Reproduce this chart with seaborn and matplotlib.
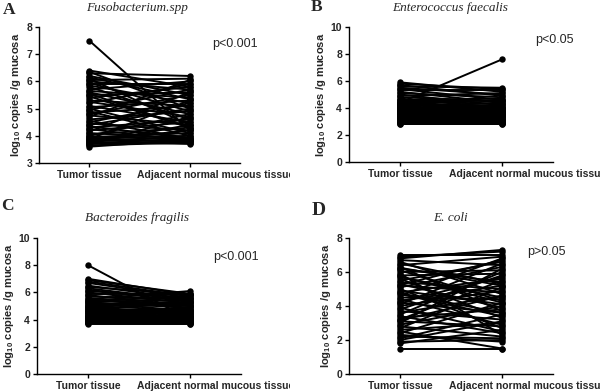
import numpy as np
import pandas as pd
import matplotlib
matplotlib.use("Agg")
import matplotlib.pyplot as plt
import seaborn as sns
from matplotlib.transforms import ScaledTranslation, Bbox, TransformedBbox

sns.set_style("ticks")
plt.rcParams['font.family'] = ['Liberation Sans', 'DejaVu Sans']
plt.rcParams['mathtext.default'] = 'regular'

categories = ["Tumor tissue", "Adjacent normal mucous tissue"]
titles = ["Fusobacterium.spp", "Enterococcus faecalis", "Bacteroides fragilis", "E. coli"]
letters = ["A", "B", "C", "D"]
pvalues = ["p<0.001", "p<0.05", "p<0.001", "p>0.05"]

fuso_tumor = [7.5, 6.4, 6.35, 6.3, 6.2, 6.1, 6.05, 6.0, 5.95, 5.9, 5.85, 5.8, 5.7, 5.65, 5.6, 5.5, 5.45, 5.4, 5.3, 5.25,
              5.2, 5.1, 5.05, 5.0, 4.95, 4.9, 4.8, 4.75, 4.7, 4.6, 4.55, 4.5, 4.45, 4.4, 4.3, 4.25, 4.2, 4.15, 4.1, 4.05,
              4.0, 3.98, 3.95, 3.92, 3.9, 3.88, 3.85, 3.82, 3.8, 3.78, 3.75, 3.72, 3.7, 3.68, 3.65, 3.6, 5.55, 4.85, 4.35, 6.15]
fuso_normal = [4.2, 5.8, 5.0, 6.2, 5.5, 4.4, 6.1, 5.7, 4.9, 5.9, 5.2, 4.6, 6.0, 5.4, 4.8, 5.6, 4.3, 5.8, 5.1, 4.7,
               5.9, 4.5, 5.3, 4.1, 5.7, 4.0, 5.5, 4.4, 6.05, 4.9, 3.9, 5.2, 4.2, 5.0, 4.6, 3.8, 4.5, 5.6, 3.9, 4.3,
               4.8, 3.85, 4.1, 3.75, 4.0, 5.3, 3.8, 4.2, 3.95, 3.7, 4.4, 3.9, 3.8, 4.7, 3.75, 3.85, 4.3, 5.1, 3.9, 5.35]

entero_tumor = [4.4, 5.9, 5.8, 5.7, 5.6, 5.5, 5.4, 5.3, 5.2, 5.1, 5.0, 4.9, 4.8, 4.7, 4.6, 4.5, 4.45, 4.4, 4.35, 4.3,
                4.25, 4.2, 4.15, 4.1, 4.05, 4.0, 3.95, 3.9, 3.85, 3.8, 3.75, 3.7, 3.65, 3.6, 3.55, 3.5, 3.45, 3.4, 3.35, 3.3,
                3.25, 3.2, 3.15, 3.1, 3.05, 3.0, 2.95, 2.9, 2.85, 2.8, 4.3, 3.9, 3.6, 3.2, 4.1, 3.7, 3.4, 3.0, 4.6, 3.8]
entero_normal = [7.6, 5.2, 5.4, 4.9, 5.5, 5.0, 4.6, 5.3, 4.4, 4.8, 4.2, 5.1, 4.5, 4.0, 4.7, 4.3, 3.9, 4.1, 4.6, 3.8,
                 4.2, 4.0, 3.6, 4.4, 3.9, 3.7, 4.1, 3.5, 3.8, 4.0, 3.4, 3.6, 3.9, 3.3, 3.7, 3.5, 3.2, 3.6, 3.1, 3.4,
                 3.3, 3.0, 3.2, 2.9, 3.1, 3.0, 2.9, 3.0, 2.85, 2.8, 4.0, 3.7, 3.5, 3.1, 3.8, 3.4, 3.3, 2.9, 4.5, 3.6]

bfrag_tumor = [8.0, 7.0, 6.9, 6.8, 6.7, 6.5, 6.4, 6.3, 6.2, 6.1, 6.0, 5.9, 5.8, 5.7, 5.6, 5.5, 5.4, 5.3, 5.2, 5.1,
               5.0, 4.95, 4.9, 4.85, 4.8, 4.7, 4.6, 4.55, 4.5, 4.45, 4.4, 4.35, 4.3, 4.25, 4.2, 4.15, 4.1, 4.05, 4.0, 3.95,
               3.9, 3.85, 3.8, 3.75, 3.7, 5.25, 4.75, 4.65, 5.35, 4.0, 3.9, 3.8, 4.1, 4.2, 5.05, 3.85, 3.75, 4.3, 4.6, 5.45]
bfrag_normal = [4.0, 5.8, 5.9, 5.7, 5.6, 5.5, 5.85, 5.4, 5.3, 5.6, 5.2, 5.9, 5.0, 5.5, 4.8, 6.1, 5.1, 4.6, 4.9, 5.3,
                4.7, 5.8, 4.5, 4.4, 5.2, 4.3, 4.2, 4.9, 4.1, 4.6, 4.0, 4.5, 3.9, 4.3, 4.7, 3.8, 4.2, 4.4, 3.9, 4.1,
                3.8, 4.0, 3.75, 3.8, 3.7, 5.0, 4.6, 4.8, 5.4, 3.9, 4.1, 3.85, 4.0, 4.3, 5.1, 3.8, 3.7, 4.2, 4.5, 5.6]

ecoli_tumor = [1.5, 1.8, 1.9, 2.1, 2.3, 2.4, 2.5, 2.6, 2.7, 2.8, 2.9, 3.0, 3.1, 3.2, 3.3, 3.4, 3.5, 3.6, 3.7, 3.8,
               3.9, 4.0, 4.1, 4.2, 4.3, 4.4, 4.5, 4.6, 4.7, 4.8, 4.9, 5.0, 5.1, 5.2, 5.3, 5.4, 5.5, 5.6, 5.7, 5.8,
               5.9, 6.0, 6.1, 6.2, 6.3, 6.4, 6.5, 6.6, 6.7, 6.8, 6.9, 7.0, 2.0, 2.2, 3.15, 4.25, 4.75, 5.25, 5.75, 6.25]
ecoli_normal = [1.5, 2.6, 2.0, 3.5, 1.9, 4.2, 1.5, 3.0, 5.1, 2.2, 4.0, 6.2, 2.8, 5.5, 3.8, 2.4, 6.0, 4.6, 3.2, 5.8,
                2.5, 4.9, 6.5, 3.6, 5.2, 2.9, 4.4, 6.8, 3.4, 5.6, 4.1, 2.7, 6.3, 4.8, 3.9, 5.0, 6.6, 3.3, 4.5, 5.9,
                2.3, 6.1, 4.3, 5.4, 3.7, 6.9, 5.3, 4.7, 6.4, 7.3, 7.2, 7.0, 3.1, 2.1, 4.6, 5.7, 3.6, 6.7, 4.2, 5.2]

series = [(fuso_tumor, fuso_normal), (entero_tumor, entero_normal),
          (bfrag_tumor, bfrag_normal), (ecoli_tumor, ecoli_normal)]
ylims = [(3, 8), (0, 10), (0, 10), (0, 8)]
yticks = [[3, 4, 5, 6, 7, 8], [0, 2, 4, 6, 8, 10], [0, 2, 4, 6, 8, 10], [0, 2, 4, 6, 8]]

W, H = 600, 391
fig = plt.figure(figsize=(6, 3.91), dpi=100)

# axes boxes in pixels: left, top, right, bottom
boxes = [(39, 27, 240, 163), (349, 27, 553, 162), (37, 238, 241, 374), (349, 238, 553, 374)]
clip_right = [290, 600, 290, 600]
title_pos = [(137, 8), (450, 8), (137, 218), (450, 218)]
letter_pos = [(3, 10), (311, 7), (1, 206), (312, 211)]
letter_size = [12.5, 12.5, 12.5, 14]
p_pos = [(212, 44), (535, 40), (213, 257), (527, 252)]

for i in range(4):
    l, t, r, b = boxes[i]
    ax = fig.add_axes([l / W, 1 - b / H, (r - l) / W, (b - t) / H])
    tum, nor = series[i]
    n = len(tum)
    df = pd.DataFrame({
        "subject": list(range(n)) * 2,
        "tissue": [categories[0]] * n + [categories[1]] * n,
        "value": list(tum) + list(nor),
    })
    df["x"] = df["tissue"].map({categories[0]: 0, categories[1]: 1})
    sns.lineplot(data=df, x="x", y="value", units="subject", estimator=None,
                 color="black", lw=1.4, marker="o", markersize=4.6,
                 markeredgewidth=0, ax=ax, legend=False)
    ax.set_xlim(-0.5, 1.5)
    ax.set_ylim(*ylims[i])
    ax.set_yticks(yticks[i])
    ax.set_xticks([0, 1])
    ax.set_xticklabels(categories)
    ax.set_xlabel("")
    ax.set_ylabel(r"log$_{10}$ copies /g mucosa", fontsize=8, fontweight="bold", labelpad=2)
    for s in ["top", "right"]:
        ax.spines[s].set_visible(False)
    for s in ["left", "bottom"]:
        ax.spines[s].set_linewidth(1.0)
        ax.spines[s].set_color("black")
    ax.tick_params(axis="both", length=3, width=1, color="black", labelsize=7.5, pad=2)
    for lab in ax.get_yticklabels():
        lab.set_fontweight("bold")
    labs = ax.get_xticklabels()
    for lab in labs:
        lab.set_fontweight("bold")
    labs[1].set_horizontalalignment("left")
    labs[1].set_transform(labs[1].get_transform() + ScaledTranslation(-0.53, 0, fig.dpi_scale_trans))
    labs[1].set_clip_on(True)
    labs[1].set_clip_box(TransformedBbox(Bbox.from_extents(0, 0, clip_right[i] / W, 1), fig.transFigure))

    tx, ty = title_pos[i]
    fig.text(tx / W, 1 - ty / H, titles[i], ha="center", va="center", fontsize=9.5,
             family="Liberation Serif", style="italic")
    lx, ly = letter_pos[i]
    fig.text(lx / W, 1 - ly / H, letters[i], ha="left", va="center", fontsize=letter_size[i],
             family="Liberation Serif", fontweight="bold")
    px, py = p_pos[i]
    fig.text(px / W, 1 - py / H, pvalues[i], ha="left", va="center", fontsize=9)

fig.savefig("out.png", dpi=100, facecolor="white")
